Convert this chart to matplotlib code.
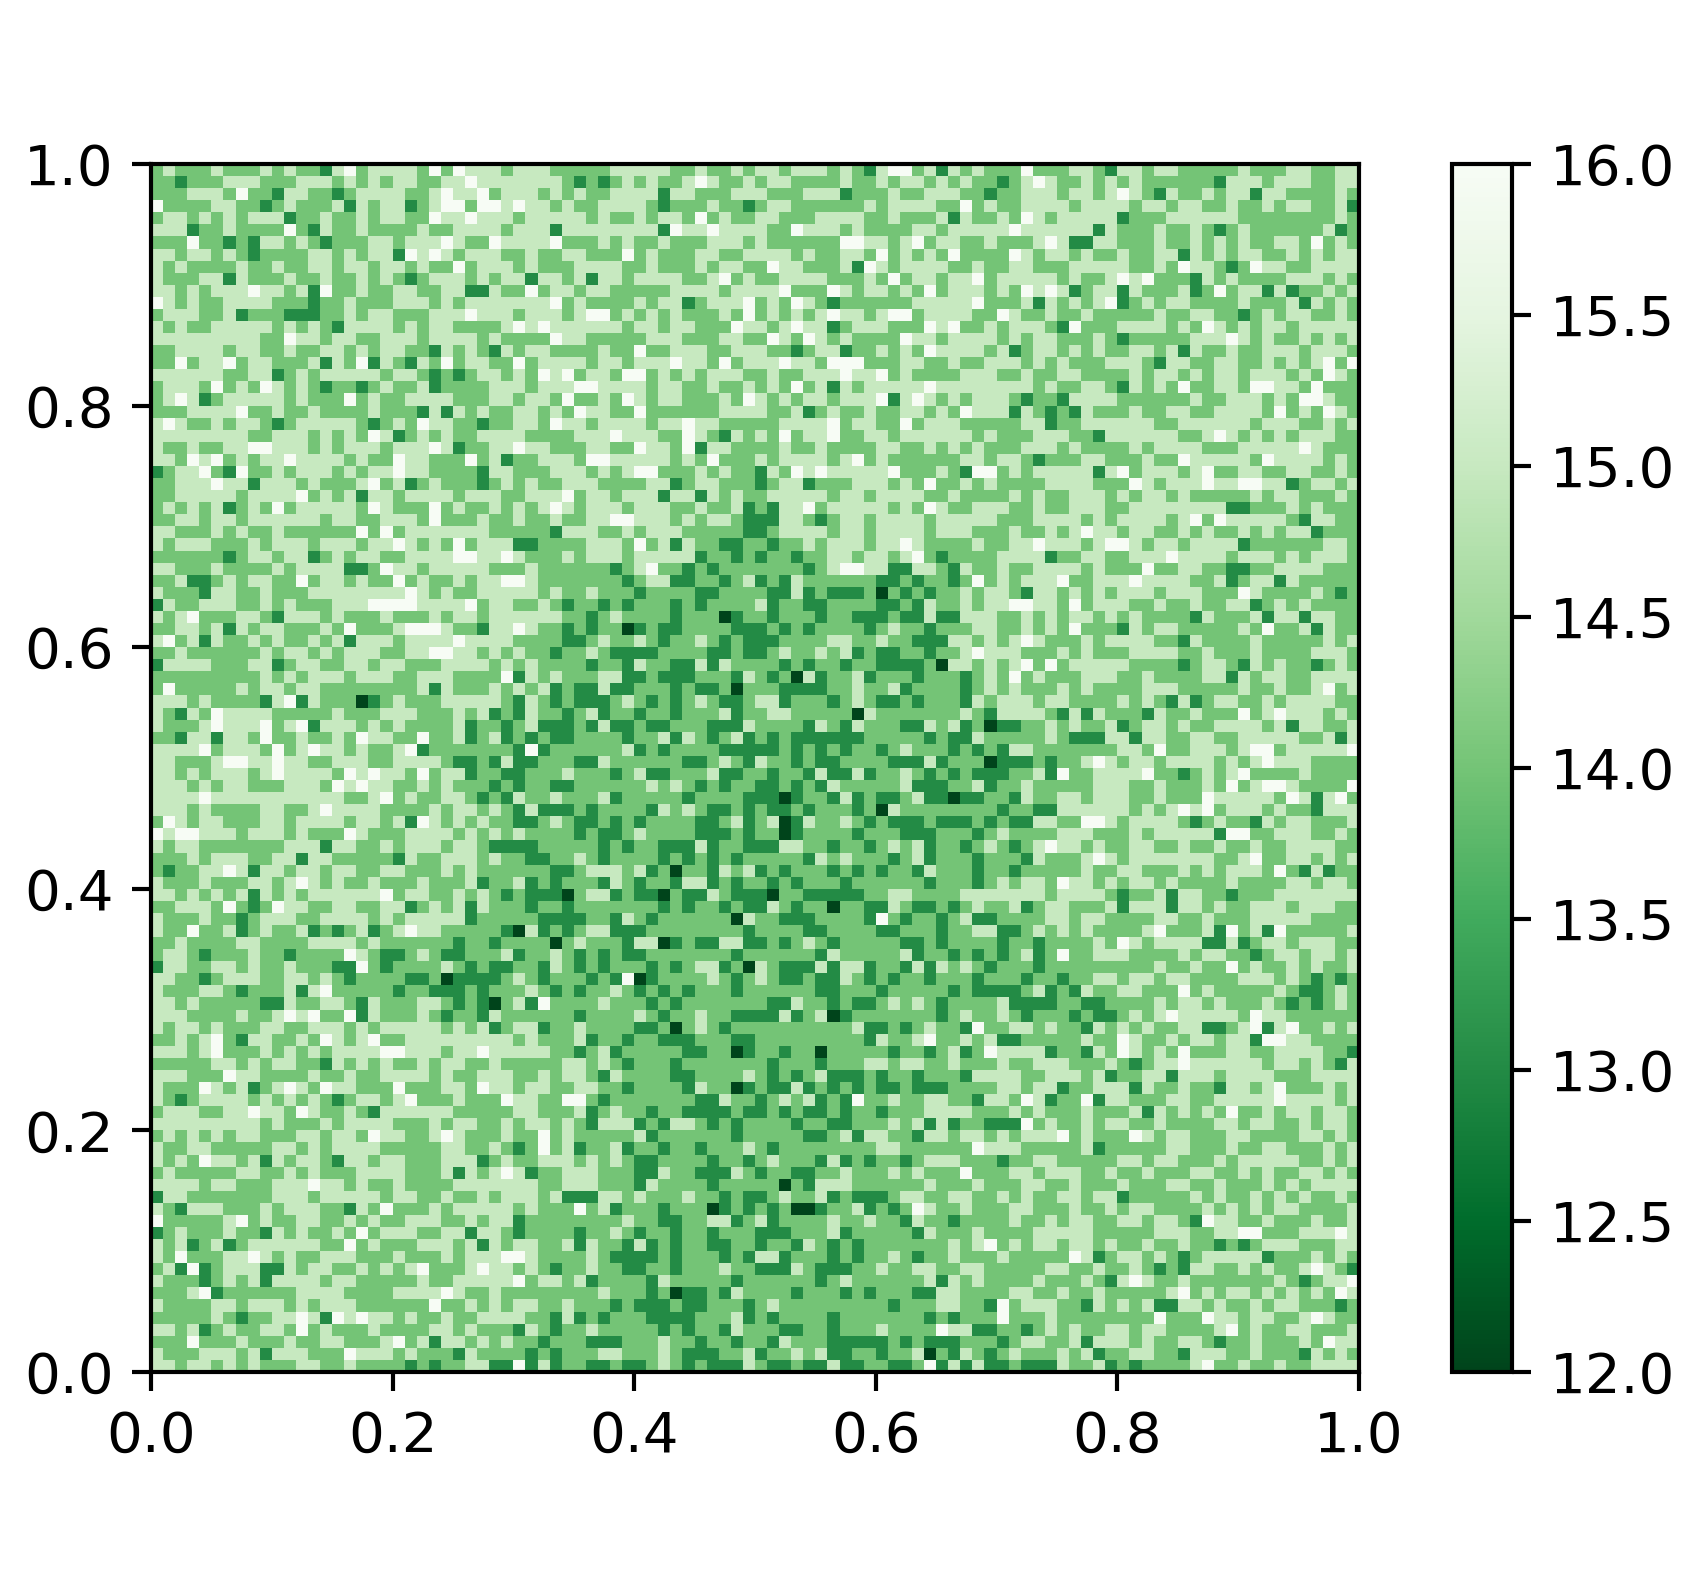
"""Heatmap with a colorbar. Cell values are hand-read estimates from the reference picture."""

import matplotlib
matplotlib.use("Agg")
import matplotlib.pyplot as plt
import numpy as np

# each number is one cell, value = 10 + number, rows run top to bottom
top_left = [
    "4 5 4 4 4 5 4 4 4 5 4 5 4 4 3 5 6 4 5 5 5 5 4 6 4 6 5 5 5 4 5 5 5",
    "4 4 3 4 4 4 5 5 5 4 4 4 5 5 5 4 5 4 5 4 5 5 4 4 5 5 6 5 5 5 5 5 5",
    "4 4 4 5 5 5 4 6 4 4 3 5 5 4 4 3 4 5 5 5 5 4 4 5 6 5 5 6 4 5 5 5 4",
    "6 4 4 4 4 5 5 4 4 3 4 5 4 4 4 5 3 5 4 5 5 3 4 5 6 6 4 6 6 5 6 5 5",
    "4 5 5 4 5 4 5 4 5 5 5 3 4 4 5 4 4 5 4 5 5 4 4 6 5 5 6 5 5 5 4 5 5",
    "5 5 5 3 4 4 5 4 4 4 4 6 4 3 5 4 4 5 4 4 4 4 5 4 4 5 5 5 5 4 5 5 5",
    "4 4 4 6 4 4 3 4 3 5 5 4 5 4 3 4 4 4 5 5 4 5 5 5 6 5 4 4 6 5 5 5 5",
    "5 5 4 5 5 4 5 4 3 4 4 4 4 5 5 4 5 4 5 5 3 6 5 6 5 4 5 5 5 4 4 5 4",
    "5 4 5 4 4 4 4 5 4 4 5 4 4 5 5 4 5 5 4 5 5 4 5 4 4 6 4 5 5 5 4 5 4",
    "5 4 4 4 5 5 3 5 4 4 4 5 4 4 5 4 4 5 4 5 4 3 4 5 5 5 4 5 4 5 5 3 5",
    "5 5 4 5 4 5 5 5 6 5 5 4 5 3 6 4 4 5 4 4 5 5 4 4 5 5 3 3 5 4 4 6 4",
    "6 5 4 5 4 4 5 5 5 5 4 4 4 3 4 4 5 4 4 4 5 5 5 4 5 4 5 5 5 5 5 5 5",
    "4 5 5 5 4 4 5 3 4 4 4 3 3 3 4 4 5 4 5 5 4 4 4 5 5 5 6 5 5 5 4 5 5",
    "5 4 5 4 4 5 5 5 5 5 4 5 4 5 4 3 5 5 5 5 4 5 4 5 5 4 4 4 4 5 6 5 6",
    "5 5 5 5 5 5 5 5 5 4 4 6 5 5 4 5 5 4 4 5 5 5 4 5 5 5 5 4 5 4 4 4 4",
    "4 4 5 5 5 5 4 5 5 4 4 5 4 4 5 5 4 5 4 5 5 4 4 3 5 4 5 4 3 5 4 5 5",
    "4 4 6 4 5 5 6 4 5 5 4 4 4 5 3 5 4 6 3 5 4 3 5 4 6 4 5 5 4 4 6 4 5",
    "5 5 5 5 5 5 4 4 5 5 3 4 5 4 5 5 5 5 5 4 5 5 4 3 4 3 4 5 5 4 5 4 6",
    "4 5 5 5 4 6 4 5 4 6 5 4 5 4 3 4 4 3 4 5 4 4 5 3 4 4 4 4 5 5 5 4 5",
    "4 5 6 5 3 4 5 5 5 5 5 4 5 4 4 4 6 4 5 4 4 5 5 5 5 4 4 4 5 5 4 5 5",
    "4 4 4 5 5 5 5 6 4 4 5 4 4 5 4 4 4 4 5 4 4 4 3 5 3 5 4 5 4 4 5 5 4",
    "5 6 5 4 4 5 4 5 5 4 3 4 5 5 5 5 5 4 3 4 5 4 6 5 5 4 4 3 4 4 5 5 4",
    "5 5 5 5 5 5 5 5 4 4 5 5 5 4 5 4 5 4 6 5 3 4 5 4 5 4 4 5 5 5 5 4 4",
    "5 4 4 5 4 4 5 5 6 6 5 5 5 4 5 4 5 5 5 4 5 5 5 6 5 3 4 4 5 5 6 5 5",
    "5 5 4 6 5 6 4 5 4 5 5 6 5 5 5 5 4 5 4 4 6 5 5 4 4 4 6 4 5 3 4 4 5",
    "3 4 5 5 6 4 3 6 4 4 5 4 5 5 5 4 5 4 5 5 6 5 5 4 4 4 4 3 5 5 4 4 4",
    "4 4 5 5 5 6 5 5 3 5 5 5 4 5 4 4 4 5 6 4 5 3 4 5 4 4 4 3 4 5 4 5 4",
    "4 4 5 5 5 5 5 4 5 5 5 5 6 4 5 4 5 3 5 5 4 5 5 5 5 4 5 5 5 4 4 5 5",
    "4 5 4 5 4 5 3 4 5 4 6 4 5 5 5 5 5 4 6 5 4 4 4 6 4 5 4 4 5 4 5 4 5",
    "4 4 5 5 4 5 5 4 5 5 5 5 5 5 4 5 5 4 4 5 5 5 4 6 4 4 4 5 4 4 5 4 4",
    "5 5 4 4 4 5 4 5 4 4 5 4 4 4 4 4 4 6 4 6 4 5 5 5 5 5 5 5 4 4 4 4 4",
    "5 4 5 5 5 4 4 4 5 4 5 5 5 4 5 5 5 4 5 5 6 5 4 5 4 6 4 5 5 5 3 3 4",
    "4 4 4 4 4 4 3 4 5 5 4 5 5 3 4 5 4 5 5 4 4 5 5 5 5 6 6 5 5 6 5 4 4",
]
top_mid = [
    "4 4 4 4 4 5 5 5 5 5 4 4 5 4 4 5 4 5 5 4 5 5 5 4 5 4 3 5 6 6 4 5 3 5",
    "5 4 3 4 3 4 5 4 5 4 4 5 6 5 4 4 5 4 5 5 4 4 4 4 5 4 4 5 4 5 5 4 5 4",
    "5 4 5 4 4 5 5 5 5 3 5 5 4 4 4 5 5 5 4 4 4 5 5 5 3 4 4 4 5 4 4 5 5 5",
    "4 5 4 4 5 5 5 5 4 3 4 4 4 5 4 4 3 4 5 5 4 4 4 4 4 4 5 4 5 5 5 5 4 4",
    "5 5 5 4 5 4 4 5 4 5 5 4 6 4 5 4 4 5 5 4 4 4 5 5 5 5 4 4 5 4 4 4 5 3",
    "3 5 5 5 5 5 5 5 5 3 6 5 5 6 5 5 5 5 4 4 6 5 5 5 4 5 4 4 4 4 5 5 4 5",
    "6 4 4 4 5 4 5 4 4 5 4 4 4 5 5 5 4 5 4 4 4 4 4 4 6 6 5 5 4 5 6 4 5 5",
    "4 5 5 4 4 4 6 4 5 4 4 4 5 5 4 4 5 5 5 5 4 5 4 4 5 5 4 6 4 5 4 5 4 6",
    "4 4 5 5 5 5 4 4 5 4 4 4 5 4 5 5 4 4 6 5 5 4 4 4 5 3 6 5 4 5 5 5 5 4",
    "5 4 5 3 5 5 4 5 5 5 5 4 4 5 6 4 5 4 4 5 5 5 5 4 4 4 5 4 6 4 5 5 4 5",
    "5 5 4 5 5 4 4 4 4 4 5 5 5 5 4 5 5 5 5 6 4 4 4 6 5 4 5 5 4 5 4 6 4 5",
    "6 4 5 4 4 4 4 5 4 5 5 3 4 5 5 5 6 4 5 4 6 5 4 3 4 4 4 4 4 4 5 5 5 5",
    "5 4 5 6 6 4 5 4 5 4 5 4 4 4 5 4 6 4 5 4 5 4 5 6 5 5 4 5 6 6 4 5 5 5",
    "5 5 5 5 5 5 4 5 5 4 5 5 4 4 4 6 5 5 4 5 6 5 5 3 4 5 5 5 4 4 4 6 5 6",
    "6 5 5 4 4 4 4 4 5 5 5 4 4 4 5 5 4 4 6 5 4 6 5 4 5 4 4 4 4 6 5 5 4 5",
    "4 4 4 4 5 4 4 6 4 4 5 5 5 4 4 5 5 5 4 4 3 4 5 5 3 4 4 5 4 5 4 6 5 5",
    "5 5 5 4 5 5 4 5 5 5 6 5 5 4 6 4 5 5 5 6 5 5 4 6 6 6 4 4 4 5 5 4 4 5",
    "5 6 4 5 5 4 6 6 4 5 4 5 4 5 5 5 4 4 5 4 4 5 5 5 6 5 5 6 4 5 4 4 4 4",
    "5 5 6 6 5 5 5 5 4 5 5 4 4 5 4 4 5 4 5 4 6 4 5 3 5 4 5 5 5 5 5 6 5 5",
    "4 6 4 4 5 4 6 5 4 5 5 4 4 4 5 4 6 5 4 5 4 5 5 4 5 5 5 6 3 5 6 5 4 5",
    "5 4 6 5 5 4 4 6 4 4 4 4 4 4 5 5 5 5 4 4 5 3 4 5 4 4 5 4 4 5 5 4 5 4",
    "6 5 5 4 5 5 5 5 4 5 5 6 5 5 4 4 4 4 4 5 5 5 5 6 4 5 5 4 4 6 4 5 5 5",
    "4 4 5 5 5 6 5 5 5 4 4 6 5 4 3 5 4 5 4 6 4 5 5 6 4 4 5 5 4 5 5 5 5 5",
    "4 4 4 5 5 4 4 6 5 5 4 6 3 5 5 4 4 4 4 5 4 4 5 4 4 4 4 5 5 4 4 5 4 5",
    "5 5 4 6 6 5 5 5 5 5 4 5 4 6 4 4 4 5 4 5 5 5 5 4 5 6 4 5 4 4 4 4 4 4",
    "5 5 5 4 5 4 5 6 6 4 4 4 5 4 5 4 4 3 5 4 6 5 6 5 5 5 5 5 6 4 4 4 5 4",
    "4 5 5 5 4 4 4 4 5 5 3 4 5 5 4 4 4 3 4 5 5 3 4 4 4 5 5 5 4 5 4 6 4 4",
    "5 6 4 5 5 4 5 5 5 3 5 5 3 5 4 5 4 4 5 5 5 5 5 4 5 5 4 5 5 5 5 4 4 5",
    "6 5 4 5 5 5 4 5 5 5 4 4 5 4 4 5 3 4 3 5 5 6 4 5 5 5 5 5 4 5 4 6 5 4",
    "5 4 4 5 5 6 6 5 5 5 4 5 4 5 5 4 3 3 3 5 5 4 3 4 5 5 4 5 5 5 5 4 5 5",
    "3 5 5 5 4 4 5 4 5 5 5 4 4 4 4 4 3 3 4 5 5 5 5 4 5 5 4 5 5 5 5 4 5 5",
    "4 4 4 5 5 5 4 6 4 5 3 5 4 4 3 3 4 4 3 4 4 5 4 5 5 5 4 5 5 6 5 4 4 4",
    "4 5 4 5 5 5 4 5 5 5 5 5 3 4 4 3 4 3 4 4 3 4 4 5 5 4 5 5 4 5 6 4 3 4",
]
top_right = [
    "4 5 4 4 4 6 4 4 4 5 5 4 3 5 5 4 5 5 4 4 4 4 4 5 4 4 4 5 5 4 4 5 5",
    "5 4 4 3 4 5 6 5 4 4 5 4 5 4 5 4 4 4 4 4 4 3 5 5 5 4 5 5 5 4 4 5 5",
    "4 4 3 4 4 5 5 5 4 5 5 4 5 6 5 4 3 5 4 4 5 4 5 5 3 5 5 4 4 4 4 5 4",
    "6 4 5 4 4 5 5 5 5 4 5 5 5 5 4 5 5 4 5 5 4 4 5 4 4 5 4 5 5 4 4 5 3",
    "5 4 4 5 4 6 5 4 5 5 5 5 5 3 4 4 4 5 5 5 5 5 5 4 4 4 4 4 4 4 4 5 4",
    "5 5 5 5 6 5 5 5 5 5 5 3 5 4 4 4 5 4 4 5 4 3 4 5 4 4 4 4 4 4 5 3 4",
    "4 4 5 4 4 4 5 6 5 3 3 5 5 4 4 4 5 4 4 5 4 5 4 5 4 4 5 5 4 6 4 5 4",
    "4 4 4 4 6 5 4 5 5 4 5 4 4 5 4 4 5 5 3 5 4 5 4 5 5 4 4 5 4 5 4 5 5",
    "4 5 4 4 5 5 4 4 4 5 5 5 5 5 4 4 5 4 6 5 5 4 3 4 6 5 5 4 4 5 5 5 5",
    "5 6 4 5 5 5 5 5 4 5 4 4 5 6 5 6 4 4 4 3 5 4 5 4 4 4 4 5 5 5 4 5 4",
    "5 5 4 5 4 6 5 6 5 3 4 5 5 3 5 4 4 4 5 3 4 6 4 5 5 3 5 3 4 4 5 4 5",
    "5 6 4 4 4 5 3 5 4 5 4 5 6 3 4 5 4 5 5 4 4 4 4 5 4 4 4 5 3 5 4 5 4",
    "5 4 4 6 5 4 4 5 4 4 5 4 4 4 4 4 5 4 4 5 5 4 4 3 4 5 4 5 5 4 4 5 4",
    "4 4 5 4 5 5 5 4 3 6 4 4 4 5 5 5 5 4 5 4 6 5 4 5 4 5 5 4 5 5 5 5 5",
    "5 5 5 4 5 4 5 5 4 4 4 5 4 3 4 4 4 4 4 5 5 5 6 5 4 5 4 4 5 4 5 4 5",
    "5 5 4 5 3 4 5 5 4 5 4 5 4 4 5 5 4 5 3 5 4 4 5 4 4 5 5 5 4 5 5 5 4",
    "4 4 5 5 5 4 5 4 5 4 4 4 5 5 5 4 3 5 5 4 4 5 5 4 4 5 4 5 4 5 6 4 6",
    "5 5 5 4 4 5 4 4 5 5 4 4 4 4 5 4 5 5 4 5 4 5 5 4 5 5 5 4 5 4 6 5 4",
    "5 5 5 5 5 5 4 5 4 4 5 5 4 3 5 4 5 4 6 4 4 5 5 4 6 6 5 5 4 6 4 4 4",
    "4 5 5 5 4 3 4 4 3 5 5 5 5 4 4 4 4 4 4 5 4 4 5 5 5 4 5 4 6 6 5 4 4",
    "6 5 5 5 3 5 4 3 4 3 5 4 4 4 5 4 4 5 5 4 4 5 5 5 5 4 6 4 5 4 6 5 4",
    "4 4 4 4 4 5 5 3 4 4 5 5 5 5 5 5 4 4 5 5 5 5 5 5 4 5 5 5 4 4 5 4 5",
    "5 4 5 4 4 4 5 5 5 4 4 3 5 5 5 5 5 5 4 4 5 6 5 4 5 4 5 4 5 5 5 4 4",
    "4 5 4 4 4 5 5 5 4 5 4 4 4 4 5 4 5 5 5 5 4 4 4 5 5 5 5 5 6 5 4 4 4",
    "5 5 4 5 5 4 3 4 4 4 5 5 4 4 4 5 4 4 6 5 5 5 5 5 4 6 5 5 5 5 4 5 4",
    "3 6 6 4 5 4 5 5 5 5 5 3 5 6 4 5 5 5 4 5 6 4 4 5 5 4 4 5 5 4 4 5 4",
    "5 4 5 4 4 4 4 5 5 5 5 4 4 4 6 5 4 5 5 5 6 5 5 6 6 5 5 3 4 5 5 4 5",
    "4 4 4 4 5 4 5 4 4 5 5 5 4 5 4 5 5 4 5 4 4 4 4 4 5 4 5 5 4 4 4 5 4",
    "4 5 5 5 4 4 5 4 4 5 5 5 4 4 5 5 5 5 5 5 5 5 3 3 4 4 4 5 4 5 4 4 4",
    "5 5 5 4 4 4 5 5 5 5 4 5 4 5 5 5 5 4 5 6 4 6 5 5 5 5 5 4 3 5 5 4 4",
    "5 4 4 4 5 4 4 5 4 5 6 5 5 4 5 5 4 4 5 4 5 4 4 5 4 5 4 5 5 3 4 4 4",
    "4 5 4 4 5 5 6 5 5 5 4 5 6 6 5 4 5 5 4 5 5 5 5 3 4 4 4 4 4 4 5 5 4",
    "4 4 4 5 5 5 5 3 4 4 5 5 4 4 5 5 5 6 5 5 5 5 4 5 5 5 4 5 4 5 5 5 4",
]
mid_left = [
    "5 5 4 4 4 5 4 4 4 4 5 4 5 5 5 5 3 3 4 6 5 5 4 5 5 5 5 5 4 4 4 5 4",
    "4 4 5 3 3 4 5 4 5 5 4 4 6 4 5 5 4 5 4 4 6 4 5 4 4 5 4 5 5 6 6 5 4",
    "5 4 4 4 3 5 5 4 4 5 4 4 4 5 5 5 5 5 5 5 5 6 5 4 5 4 4 5 5 5 5 5 4",
    "3 5 4 4 5 5 5 4 4 5 4 5 4 4 4 5 5 5 6 6 6 6 5 5 5 5 6 4 5 5 4 4 5",
    "5 4 5 6 4 4 4 5 5 4 3 5 5 5 4 5 4 4 4 5 4 4 4 5 4 5 5 4 5 5 5 5 5",
    "4 4 5 5 4 5 3 5 4 5 5 4 4 4 5 4 6 4 4 4 5 6 6 6 5 4 4 3 5 5 6 5 4",
    "5 6 4 5 3 5 4 4 5 4 5 4 4 5 4 5 3 5 5 5 4 5 5 5 5 6 5 5 5 5 4 4 4",
    "4 4 5 4 4 4 4 4 4 5 4 5 5 4 5 4 5 5 5 4 4 5 5 6 6 5 5 4 5 4 5 4 4",
    "3 5 5 5 5 4 4 4 5 5 3 4 5 5 4 4 5 5 4 5 5 4 4 4 5 5 5 5 4 5 4 5 4",
    "4 4 4 4 4 4 4 4 4 5 4 5 4 5 5 5 4 5 5 5 4 4 5 5 5 4 4 4 4 6 3 5 4",
    "4 6 4 4 4 4 4 5 4 5 5 4 5 5 4 4 4 4 4 4 4 4 5 3 5 4 4 4 5 4 5 4 5",
    "5 5 5 4 5 4 4 4 4 3 5 6 3 5 4 4 4 2 3 4 5 4 4 4 5 5 5 5 5 4 3 5 4",
    "5 4 3 5 4 6 5 5 5 5 4 4 4 4 4 5 4 4 4 5 5 5 4 4 4 5 4 5 3 4 3 5 4",
    "5 4 4 4 5 6 5 5 5 6 4 5 6 3 5 5 5 4 5 4 5 4 4 4 4 5 3 4 4 3 4 5 3",
    "4 4 3 5 5 3 5 5 4 6 4 4 5 4 4 5 4 6 5 5 4 4 6 4 4 5 3 4 5 3 4 3 4",
    "5 5 5 5 6 4 5 5 5 4 6 4 5 6 5 5 4 5 4 4 5 6 3 4 4 4 4 4 4 4 3 6 3",
    "5 5 4 4 4 5 6 6 5 5 6 5 5 4 4 5 5 5 4 4 5 5 5 5 4 3 3 4 3 5 3 3 4",
    "5 5 4 5 4 5 5 5 4 5 6 5 5 5 5 4 6 5 6 5 5 4 6 4 5 5 3 4 4 3 3 4 4",
    "5 5 5 4 5 4 5 5 4 4 4 5 5 5 4 6 5 6 5 5 4 4 5 4 5 4 4 4 3 4 3 4 4",
    "5 5 5 5 6 5 5 5 5 5 5 5 5 5 5 5 4 4 5 6 4 5 4 4 5 5 4 3 4 3 5 4 4",
    "5 5 5 4 5 4 4 4 4 5 5 4 4 5 6 5 5 5 5 4 4 4 4 5 4 5 5 4 5 4 3 5 3",
    "4 6 5 4 5 5 4 4 4 5 5 4 5 5 5 5 4 5 5 4 5 3 6 5 4 5 4 5 4 4 3 3 4",
    "6 5 6 6 5 5 5 4 5 5 5 4 5 4 4 4 6 5 4 4 4 5 5 5 5 4 5 4 5 4 5 4 4",
    "5 4 5 5 4 4 4 4 4 4 4 5 5 5 3 5 5 4 4 5 4 5 5 5 4 5 5 4 3 3 3 3 4",
    "4 4 4 5 4 5 5 5 4 4 5 5 3 5 5 4 4 4 4 4 3 5 4 4 5 5 5 4 5 4 4 3 3",
    "4 3 4 4 5 5 6 5 3 5 5 4 5 5 4 5 5 4 4 5 5 4 4 4 5 4 5 4 4 4 4 4 4",
    "5 4 4 4 5 4 4 4 5 5 4 5 6 5 4 5 4 4 5 4 4 4 5 4 4 4 5 3 4 4 5 3 4",
    "5 5 4 5 4 5 4 5 3 5 4 5 4 5 5 5 5 5 5 6 4 5 5 4 4 5 4 5 4 3 4 3 3",
    "4 4 5 5 5 4 6 4 3 4 6 5 5 4 4 5 5 4 4 5 5 3 4 5 4 5 3 5 4 4 4 3 4",
    "5 4 4 4 5 4 4 3 4 5 5 5 4 4 5 5 5 5 4 5 4 5 5 5 5 5 3 4 4 4 4 4 3",
    "5 4 4 6 4 4 5 3 4 5 4 4 5 3 4 3 4 5 3 4 5 6 5 5 4 4 4 4 4 3 2 5 3",
    "4 4 5 4 4 4 4 5 5 4 4 4 4 5 5 5 5 4 5 4 4 4 4 4 4 3 4 4 3 4 4 4 4",
    "4 5 5 4 3 4 4 4 5 4 4 3 4 4 4 4 6 5 4 3 3 4 5 4 3 3 4 4 4 5 3 4 4",
    "3 5 5 4 4 5 5 4 5 4 4 5 4 4 4 3 3 6 4 3 4 4 4 4 5 4 3 4 3 3 4 4 3",
]
mid_mid = [
    "4 4 4 4 4 3 4 5 6 4 4 3 4 3 4 4 4 4 4 4 4 3 4 5 6 6 5 5 3 3 5 5 4 3",
    "4 4 4 4 4 4 3 4 5 5 3 3 4 4 3 4 5 3 4 3 5 4 4 4 4 4 4 3 3 4 3 4 4 3",
    "5 4 4 5 4 4 4 3 4 4 4 4 3 3 4 4 4 4 3 3 5 3 4 3 3 3 4 2 4 3 4 3 4 4",
    "4 3 4 4 3 4 3 4 4 4 3 4 3 4 4 4 4 5 3 4 4 3 3 4 4 4 4 3 3 4 3 5 4 4",
    "5 4 4 3 4 5 4 4 4 4 3 4 4 4 2 3 4 4 3 4 4 4 3 4 4 3 3 3 4 3 3 5 3 3",
    "4 3 4 3 4 4 2 3 4 3 3 4 4 4 4 3 3 3 4 3 4 3 4 4 4 4 3 4 5 4 4 3 4 4",
    "4 3 3 4 5 4 4 5 4 3 4 4 5 4 3 4 3 3 3 4 4 4 4 5 5 4 4 5 4 4 3 3 3 5",
    "3 4 4 5 4 3 3 3 3 4 4 4 4 3 3 4 3 3 4 5 4 4 5 4 5 3 4 3 3 4 4 3 4 4",
    "4 4 4 3 4 4 3 5 4 4 3 3 5 3 5 4 4 4 4 3 4 3 4 4 3 4 4 3 3 3 3 4 2 5",
    "5 4 4 4 5 5 3 3 4 3 3 3 4 4 4 3 5 4 3 4 2 5 3 4 4 5 3 4 4 4 3 4 4 4",
    "3 4 3 3 5 3 3 4 4 4 3 4 3 3 4 2 4 4 4 3 3 3 3 4 4 5 4 4 5 3 4 4 4 4",
    "3 4 3 3 3 4 5 4 3 4 3 4 5 4 3 3 4 5 5 3 4 4 4 3 4 5 4 3 3 4 3 4 4 4",
    "4 3 4 5 3 4 4 3 4 4 3 4 4 4 5 3 4 4 5 5 4 4 4 4 4 2 5 4 4 4 4 4 4 4",
    "3 3 4 3 5 3 3 4 3 3 4 4 4 3 3 3 5 4 4 4 4 3 5 4 3 5 4 4 4 3 3 5 4 5",
    "3 3 4 4 4 4 3 4 4 5 3 5 4 3 4 5 3 4 3 4 3 3 3 3 3 3 4 4 4 4 4 3 4 3",
    "4 4 4 4 4 4 5 3 4 3 4 4 4 4 3 3 3 3 3 4 3 4 3 4 3 4 4 3 4 5 4 4 4 3",
    "4 4 3 3 5 4 4 4 4 4 4 3 3 4 5 4 3 5 4 4 3 4 3 3 4 4 4 4 3 3 3 5 3 4",
    "4 5 4 4 4 3 4 5 3 3 4 4 4 5 3 3 4 4 3 4 4 3 5 3 3 5 3 4 4 5 4 3 4 3",
    "3 3 4 4 4 4 4 4 5 4 5 4 3 4 3 4 4 3 3 4 3 4 3 5 4 4 4 4 4 5 3 3 3 4",
    "5 4 4 4 5 3 4 4 4 4 4 3 4 4 4 4 3 3 3 2 3 4 4 3 5 3 4 3 3 4 5 3 3 2",
    "3 3 4 3 4 4 4 4 3 5 4 5 4 3 3 4 3 4 3 3 4 3 4 4 4 3 4 2 5 4 4 4 4 4",
    "5 4 3 3 4 3 4 3 4 4 4 4 3 3 4 5 3 4 5 2 3 5 4 4 5 4 3 4 3 3 3 4 3 3",
    "4 4 3 4 3 3 4 5 4 4 4 4 3 3 3 4 3 4 4 2 3 4 4 4 4 3 4 4 4 3 3 3 4 4",
    "4 4 4 4 3 4 3 4 4 3 3 3 5 3 4 4 3 3 3 5 5 4 4 3 4 4 3 4 5 4 5 3 4 4",
    "4 4 5 4 3 4 4 4 4 3 4 3 4 3 4 3 4 4 4 4 4 3 5 4 5 4 4 4 3 4 5 3 4 4",
    "3 3 4 5 5 5 4 5 3 4 2 4 4 3 5 4 5 3 4 3 4 4 4 3 4 3 4 3 4 4 3 5 4 4",
    "3 4 4 4 3 5 4 3 4 4 3 5 5 3 4 3 4 4 3 4 3 4 4 4 3 4 4 4 4 4 4 3 4 4",
    "3 2 4 5 5 3 4 3 3 2 4 3 3 5 4 3 3 3 2 4 4 3 3 3 3 3 4 4 5 5 4 4 4 4",
    "4 3 4 4 4 4 4 4 4 3 4 3 4 4 3 4 3 3 5 4 3 4 4 2 4 4 3 3 5 4 3 3 4 3",
    "3 3 3 4 4 3 5 4 3 4 4 4 4 4 4 2 5 4 4 3 3 3 4 4 4 4 3 6 4 3 4 4 3 4",
    "4 3 4 5 5 3 3 3 4 4 4 4 4 4 4 4 3 4 4 4 4 3 3 4 4 4 4 3 3 4 4 4 3 4",
    "2 4 5 4 4 4 3 5 5 2 3 4 3 3 5 5 3 3 4 3 4 5 4 3 4 4 4 4 4 3 3 4 3 4",
    "5 4 3 4 3 4 3 3 4 4 4 4 4 4 4 3 4 4 4 4 4 4 3 5 4 4 4 4 4 5 3 4 4 3",
    "5 4 3 4 3 4 4 4 3 4 3 4 5 5 3 4 2 5 4 3 3 3 5 3 5 5 3 4 4 3 5 3 5 4",
]
mid_right = [
    "5 4 4 5 4 4 5 5 5 5 4 5 4 4 4 6 4 4 5 5 4 4 3 3 4 4 5 5 5 5 4 4 4",
    "4 6 4 5 4 5 5 5 6 4 4 5 5 5 6 5 5 5 5 4 4 5 3 4 5 5 3 5 4 4 4 4 4",
    "5 4 5 5 4 3 5 5 4 5 4 5 4 5 5 5 4 5 5 5 4 4 4 6 5 4 4 4 4 5 4 3 4",
    "5 4 5 5 6 6 5 5 4 6 4 5 5 5 4 4 5 4 4 5 4 4 5 5 3 4 5 4 5 4 4 4 4",
    "5 5 5 4 4 5 4 5 4 5 5 4 5 4 5 4 4 4 4 3 5 4 4 4 5 3 5 5 3 5 5 4 4",
    "4 5 5 4 4 5 4 5 4 6 4 4 4 3 5 4 5 5 4 4 4 4 4 5 4 6 4 4 5 3 5 4 4",
    "5 4 5 4 5 6 5 4 4 4 5 4 5 5 5 5 4 4 3 5 4 4 4 4 5 4 4 4 4 4 5 4 5",
    "5 6 5 5 5 4 4 4 5 4 5 4 4 4 5 5 5 5 4 4 5 4 4 4 5 4 4 4 4 5 5 5 4",
    "5 4 5 4 5 6 4 6 4 5 5 5 5 5 4 4 4 4 3 4 5 5 4 3 5 4 5 4 4 3 4 5 4",
    "3 4 5 4 6 4 5 4 4 4 5 5 5 4 4 5 4 4 4 4 5 5 3 5 4 5 5 4 4 5 5 5 5",
    "3 4 5 4 5 4 4 4 5 4 5 4 4 4 4 5 5 5 4 4 4 4 4 5 4 4 5 4 4 5 6 4 5",
    "3 5 4 5 5 5 4 5 5 4 4 4 4 5 4 5 4 3 5 3 4 5 5 4 4 5 4 5 5 5 5 4 4",
    "5 4 3 5 5 5 5 4 3 5 3 5 4 4 4 3 5 4 4 5 4 4 4 6 4 5 6 5 5 5 4 5 4",
    "3 4 2 3 3 4 4 5 4 5 4 4 5 3 4 5 5 4 5 4 4 5 5 5 5 4 5 3 5 5 4 4 5",
    "3 5 4 4 4 4 4 5 4 3 3 3 5 5 3 5 5 4 4 5 5 4 4 5 5 5 5 5 4 4 5 3 5",
    "4 3 4 3 5 5 4 4 4 4 4 4 4 5 5 4 6 4 4 5 5 5 4 5 6 6 4 5 5 5 5 5 6",
    "4 4 2 3 3 3 4 3 4 4 5 6 5 4 5 5 4 5 5 5 5 4 5 4 5 6 5 5 5 4 4 4 4",
    "4 3 3 3 4 4 5 3 6 4 4 5 5 5 5 6 4 4 3 4 5 4 5 6 4 4 4 4 5 4 4 4 4",
    "4 5 3 4 4 5 4 4 4 4 4 5 5 5 4 4 5 4 4 4 5 4 6 4 5 6 6 5 4 4 4 4 6",
    "3 3 4 4 3 5 4 4 5 5 4 5 5 5 4 4 5 4 4 4 6 5 5 5 5 5 4 6 5 3 5 6 4",
    "4 4 4 3 4 4 3 3 5 5 5 5 5 5 4 5 4 5 6 5 6 4 5 5 5 4 5 4 4 3 5 5 5",
    "3 4 3 4 3 3 5 5 4 4 6 6 5 4 5 5 5 5 4 3 4 5 4 4 3 5 4 5 5 4 4 4 5",
    "4 3 4 5 4 4 4 4 5 5 5 4 4 4 5 4 5 5 5 5 5 3 6 6 4 4 5 5 5 4 4 5 4",
    "3 4 5 4 3 4 5 6 5 5 4 5 4 4 5 5 4 4 5 4 4 5 4 4 5 4 4 5 5 5 5 4 4",
    "4 3 4 4 4 3 5 4 4 4 5 6 5 4 5 5 5 5 5 5 5 4 4 5 6 4 4 5 5 4 5 4 5",
    "4 3 4 4 3 4 4 4 4 4 5 4 4 5 5 4 4 4 5 4 5 4 5 5 5 4 6 4 3 5 3 4 4",
    "4 3 4 5 4 5 5 4 6 5 5 4 5 4 5 5 4 5 4 4 4 4 5 4 4 4 4 5 5 4 5 5 4",
    "5 5 5 5 5 5 5 4 5 5 5 5 4 3 4 4 5 3 5 5 4 4 3 4 4 4 5 5 5 5 5 5 5",
    "4 5 4 4 5 3 4 5 5 4 4 4 5 3 5 5 5 3 5 5 4 5 4 4 5 5 5 4 5 5 5 4 4",
    "5 3 3 4 4 4 4 5 5 4 5 5 4 4 4 4 5 5 4 4 5 4 4 4 5 5 5 5 5 4 4 4 4",
    "4 5 5 3 3 4 5 4 5 4 5 4 4 4 4 5 6 4 4 4 5 3 6 4 5 3 6 4 4 4 4 4 5",
    "4 4 4 3 4 4 3 4 4 4 4 5 4 6 5 4 5 5 5 5 3 3 5 3 4 5 5 4 5 5 5 4 4",
    "4 3 4 3 4 5 3 4 6 4 4 5 5 5 4 4 4 4 5 4 5 5 4 4 3 4 5 5 4 5 5 4 5",
    "5 4 3 4 4 4 3 4 4 4 4 4 4 4 4 4 5 4 4 5 4 4 6 4 5 4 4 5 4 5 4 4 5",
]
low_left = [
    "5 5 4 4 3 4 5 5 5 4 4 5 5 4 5 4 3 4 4 4 4 3 3 4 2 3 3 3 3 4 5 4 3",
    "5 4 4 4 5 5 4 3 4 4 4 5 3 5 6 4 4 4 4 4 3 4 4 3 3 3 4 3 4 4 4 5 4",
    "5 5 4 5 4 4 4 4 4 3 3 5 4 4 5 5 4 3 5 4 4 4 5 5 4 3 4 3 2 4 5 3 6",
    "5 5 5 4 4 4 4 5 4 4 5 6 5 6 4 4 6 3 5 4 4 4 5 4 3 4 4 3 5 4 4 4 4",
    "5 4 5 5 4 5 4 4 4 5 5 4 4 5 5 5 4 5 4 5 5 5 5 5 4 5 4 5 3 4 5 5 3",
    "4 4 5 4 5 6 4 3 5 5 4 4 5 4 6 5 4 5 6 4 4 5 5 5 5 5 5 5 5 5 4 5 4",
    "5 5 5 4 5 6 4 4 4 5 4 5 4 5 4 5 5 5 5 6 6 5 5 5 4 5 5 6 5 5 5 5 5",
    "4 4 4 4 4 5 5 4 5 4 5 5 4 4 3 5 4 5 4 5 4 4 5 4 5 5 4 4 5 4 4 4 4",
    "5 5 5 4 4 4 6 5 5 4 4 4 4 5 4 4 5 4 4 5 5 5 5 4 5 4 4 5 5 5 4 4 5",
    "5 4 4 4 6 5 4 5 3 4 5 6 5 4 6 5 5 4 4 4 6 4 4 4 5 5 4 6 5 5 4 5 5",
    "5 4 3 4 5 5 5 5 4 5 4 5 4 5 4 3 4 5 5 4 5 6 4 4 4 5 4 4 4 6 5 5 4",
    "4 5 5 5 4 4 5 5 6 5 5 4 6 5 4 4 5 4 3 5 5 5 5 5 5 4 4 4 4 4 5 5 4",
    "5 5 5 5 5 5 5 5 5 4 5 4 4 4 5 4 5 5 5 5 4 4 4 5 4 5 5 4 4 5 4 5 5",
    "4 5 4 5 4 5 4 5 5 4 4 4 5 5 4 5 5 4 6 5 5 4 4 5 6 5 4 4 4 5 4 4 6",
    "5 4 4 5 5 4 4 4 4 4 5 5 4 5 4 5 5 5 5 4 4 4 4 4 5 5 4 4 5 4 3 4 6",
    "5 4 5 4 6 5 5 4 5 3 5 4 5 5 4 3 5 5 4 5 5 4 4 4 5 5 5 3 4 5 4 4 5",
    "4 5 4 4 4 4 4 5 5 4 4 5 4 5 4 4 4 5 5 5 5 4 4 4 5 3 5 4 5 6 5 3 4",
    "5 5 5 5 4 5 5 4 4 4 5 5 5 6 5 5 4 5 4 4 5 4 4 4 4 5 5 5 5 5 5 5 4",
    "3 5 5 4 4 4 4 4 4 4 5 5 5 4 5 5 5 5 5 4 5 5 4 4 5 4 4 5 4 5 5 5 4",
    "5 4 3 5 5 5 4 4 4 5 4 5 5 5 4 4 3 5 4 6 4 4 4 5 4 5 5 5 5 5 4 5 4",
    "6 4 4 4 4 4 5 6 4 5 4 4 5 5 4 4 5 4 5 4 4 5 5 5 4 4 5 4 5 5 3 4 4",
    "3 4 5 4 4 4 5 4 4 3 5 4 5 4 4 5 4 6 4 5 5 5 4 4 5 5 3 5 5 4 3 4 4",
    "5 4 5 3 4 5 3 4 5 5 5 5 5 5 4 4 6 4 5 4 4 4 5 5 5 4 5 3 5 4 5 5 4",
    "5 4 6 4 4 4 5 5 6 5 4 5 4 4 5 5 5 4 4 4 5 4 4 4 5 4 5 5 5 6 6 5 4",
    "4 5 3 6 3 4 5 5 5 3 3 5 4 5 5 4 4 5 4 5 4 5 6 4 4 4 5 6 5 5 4 5 4",
    "5 4 4 4 3 4 5 4 5 3 5 5 5 5 4 5 5 4 4 4 4 4 5 4 4 5 5 5 5 5 6 4 5",
    "4 4 4 5 6 3 4 4 4 4 4 4 5 5 5 5 4 4 4 4 5 5 5 5 6 5 4 4 5 4 4 4 4",
    "5 4 4 4 4 5 5 4 5 5 5 4 5 4 5 5 5 4 4 4 4 4 4 6 4 4 5 4 5 4 5 5 4",
    "4 4 4 4 4 5 4 3 4 4 5 5 6 5 3 6 5 6 5 5 4 5 4 4 5 4 4 5 5 5 5 4 4",
    "5 5 4 5 3 4 5 4 4 5 5 4 6 4 5 4 4 4 5 4 4 4 4 5 5 4 5 4 4 4 3 5 4",
    "4 4 4 6 4 4 4 5 4 4 4 5 4 4 5 5 4 4 4 5 6 4 5 3 5 5 4 5 4 5 4 4 3",
    "5 4 4 4 5 5 5 4 5 3 5 5 5 4 4 4 6 5 5 5 4 5 4 4 4 3 5 4 4 4 4 3 4",
    "5 5 4 5 5 4 5 4 5 4 4 4 5 5 4 4 5 4 4 4 4 3 4 3 4 4 5 5 3 3 6 3 5",
]
low_mid = [
    "4 4 4 3 4 3 6 2 3 4 4 4 4 5 4 3 4 5 4 3 3 4 3 3 5 4 3 4 3 4 4 3 4 4",
    "3 4 3 4 4 5 4 3 4 3 4 3 4 4 4 3 4 4 4 4 4 4 3 3 4 4 4 3 4 4 4 4 4 3",
    "4 4 4 4 5 4 4 4 3 4 3 4 4 4 4 4 4 4 3 3 5 4 4 3 4 3 3 4 5 4 5 4 3 4",
    "4 4 3 4 4 4 4 5 4 3 4 4 5 4 4 3 3 3 3 5 3 4 5 2 3 4 4 4 4 4 4 4 3 4",
    "4 4 5 4 4 4 4 3 3 4 2 4 5 4 3 4 4 4 4 4 4 4 4 4 4 5 3 3 4 3 4 5 4 4",
    "4 4 5 3 4 4 3 4 4 3 3 3 4 4 4 3 3 4 4 4 4 4 4 4 4 4 3 5 4 4 5 6 4 4",
    "4 4 3 4 5 3 4 4 4 4 4 3 3 4 4 2 3 4 4 3 4 4 2 4 4 4 4 4 3 4 4 3 4 5",
    "4 5 5 4 5 4 3 4 4 4 3 4 4 4 4 4 4 4 3 4 4 4 3 4 4 4 5 5 4 5 5 4 4 5",
    "4 5 5 4 3 5 4 4 4 4 3 3 4 4 4 4 5 4 3 4 3 4 5 3 3 3 4 3 4 4 3 4 4 4",
    "4 4 5 5 4 4 3 4 4 4 4 3 5 4 4 2 3 4 3 3 5 3 4 3 4 3 4 3 3 4 3 3 3 4",
    "4 6 6 4 3 4 4 4 4 4 4 4 3 3 5 4 4 3 4 5 4 5 3 4 3 6 4 4 5 4 4 5 5 4",
    "4 4 5 3 4 5 4 4 3 4 4 3 3 3 3 4 3 3 4 3 4 3 3 4 3 4 4 3 4 4 4 5 5 5",
    "4 5 4 3 5 5 5 3 4 3 5 5 4 3 4 3 4 4 4 4 3 4 4 3 3 4 4 4 5 4 5 3 5 3",
    "4 5 4 4 4 4 4 5 3 4 4 4 4 4 4 3 4 4 4 4 4 3 3 4 5 3 5 5 4 4 3 5 5 4",
    "4 5 3 4 4 5 3 4 4 3 4 4 3 4 4 4 5 4 3 4 4 4 4 4 4 4 4 5 5 4 4 4 4 4",
    "5 5 4 5 4 5 4 3 3 4 4 4 4 3 4 4 3 4 5 4 4 4 3 5 3 4 3 4 4 3 4 5 5 5",
    "4 5 5 5 4 4 4 3 3 5 4 4 3 3 3 5 4 3 4 4 3 3 4 4 5 4 4 4 5 4 5 4 4 4",
    "4 5 5 5 4 4 4 3 5 4 4 4 4 3 4 4 4 4 4 2 4 3 5 5 5 4 4 4 4 4 4 5 4 4",
    "5 3 3 3 5 5 4 5 4 4 4 5 4 4 3 4 3 3 4 5 4 4 5 3 4 3 3 3 4 5 5 4 4 5",
    "4 4 6 4 5 3 4 4 4 3 4 4 4 2 3 4 3 4 3 4 2 2 3 4 4 5 3 4 3 4 6 5 4 4",
    "4 4 4 4 4 4 5 4 4 3 3 4 4 5 5 3 4 5 3 4 4 4 4 5 4 4 5 4 4 3 5 4 4 3",
    "4 4 3 4 4 5 4 3 4 4 3 4 4 3 4 4 4 3 3 3 4 4 4 5 3 4 4 4 4 4 3 5 4 4",
    "4 5 3 5 4 4 3 5 3 4 3 4 4 3 3 4 4 3 4 4 3 5 4 3 4 3 4 4 4 4 4 4 4 5",
    "4 4 4 5 4 3 3 3 3 4 3 4 4 4 3 4 3 5 5 3 4 4 4 3 4 3 4 4 5 4 3 4 4 5",
    "3 4 4 5 4 4 3 3 4 4 3 4 4 4 5 4 4 3 3 3 5 4 3 3 3 4 4 5 4 4 5 5 4 4",
    "5 4 5 3 4 4 4 4 3 5 4 4 4 4 4 3 4 4 4 4 4 4 3 4 5 4 4 4 4 4 4 5 3 5",
    "4 4 4 4 5 4 4 4 3 4 2 3 3 4 3 5 4 4 4 4 3 4 4 4 3 4 3 4 4 4 3 3 5 5",
    "4 5 4 4 4 3 4 3 3 3 4 3 3 4 4 4 3 4 5 4 4 4 4 4 4 4 4 4 3 4 4 4 5 5",
    "3 5 3 4 3 4 4 4 3 3 3 3 4 4 4 5 3 4 3 4 4 4 4 3 4 4 4 4 4 4 4 3 4 3",
    "3 4 4 5 4 4 4 4 4 3 4 3 4 4 3 5 4 4 4 3 3 4 4 3 4 4 4 5 4 4 4 4 6 5",
    "4 4 4 3 3 3 4 4 4 5 4 4 3 4 4 3 4 4 3 5 4 4 4 3 3 3 3 3 4 3 4 3 3 3",
    "3 4 4 4 5 5 4 4 4 5 4 3 3 3 4 4 5 3 4 4 5 4 5 3 3 4 4 3 4 4 5 2 4 3",
    "3 4 4 3 3 4 3 3 4 5 4 3 4 3 3 3 5 4 3 3 4 3 3 5 3 3 4 4 3 3 4 6 3 5",
]
low_right = [
    "4 3 4 4 4 3 4 4 3 4 4 5 5 4 5 5 4 5 5 4 4 4 4 5 5 5 4 5 4 3 4 3 4",
    "4 3 3 3 3 4 5 3 4 3 5 4 4 5 5 4 4 4 6 4 5 4 4 4 4 4 5 4 3 3 4 5 4",
    "4 4 4 5 3 3 3 3 4 4 3 3 4 4 4 4 5 4 5 5 4 5 4 4 4 5 4 3 4 3 4 5 4",
    "5 4 4 5 4 3 4 4 4 3 4 3 3 4 5 4 5 6 5 5 5 5 5 4 6 5 5 4 4 4 4 4 4",
    "3 6 4 4 5 5 4 5 4 4 3 5 4 5 4 5 4 4 5 5 3 3 4 5 6 3 5 6 4 4 5 4 5",
    "5 4 5 3 3 4 4 4 4 4 5 4 4 6 5 4 4 5 4 5 5 4 5 5 3 6 6 5 5 4 4 4 4",
    "3 4 6 5 5 5 5 3 4 4 3 5 4 6 5 4 5 4 6 4 4 4 5 5 4 4 5 5 5 5 4 4 3",
    "4 4 4 5 4 4 5 5 5 4 4 4 5 4 3 4 5 5 6 5 5 5 5 5 5 4 5 5 4 5 4 3 5",
    "3 5 5 5 5 4 4 5 5 5 4 5 3 4 4 5 5 3 5 5 5 4 5 5 5 5 4 4 4 5 5 5 5",
    "4 4 4 5 5 4 5 5 3 4 4 5 5 5 3 5 4 4 5 4 4 3 5 5 4 5 6 4 4 4 5 4 5",
    "4 3 5 5 4 6 5 3 4 4 6 3 5 5 4 4 4 5 5 4 4 5 5 5 5 5 6 5 5 5 5 4 5",
    "5 4 4 4 5 4 5 4 4 4 5 4 4 4 5 3 5 4 5 4 5 4 6 4 4 5 4 5 5 4 5 5 4",
    "4 4 3 3 3 6 4 5 4 4 5 4 5 5 4 4 5 4 4 4 4 5 5 4 5 5 4 4 5 4 5 5 4",
    "5 5 4 5 4 5 5 5 6 4 5 4 4 4 6 5 4 5 5 4 4 4 5 5 4 4 4 4 5 5 4 5 4",
    "4 6 5 5 5 4 4 4 4 4 5 3 4 4 4 4 4 5 5 4 4 4 5 4 4 5 5 4 4 4 5 4 5",
    "4 4 4 3 4 4 5 5 4 4 4 4 4 5 5 4 5 5 4 4 4 5 4 5 5 5 5 5 4 4 5 4 5",
    "6 4 4 4 5 5 4 5 5 5 4 4 5 4 4 5 4 4 4 5 5 4 4 5 4 5 4 4 5 5 4 5 4",
    "4 5 4 4 4 5 5 4 4 5 4 4 4 5 4 4 4 5 5 4 4 5 4 4 4 5 4 5 4 5 5 5 5",
    "5 4 4 5 4 5 4 4 5 5 4 5 5 3 4 4 4 4 4 5 4 5 4 4 5 4 5 4 5 4 4 5 4",
    "5 4 4 4 5 5 4 4 4 5 4 4 5 4 5 5 4 4 4 4 5 4 5 4 5 4 5 5 4 4 4 4 5",
    "4 4 4 4 5 4 4 5 4 5 5 4 4 5 5 4 5 5 4 3 6 5 5 4 4 5 4 4 4 5 4 4 5",
    "4 5 4 4 4 4 5 5 5 5 5 4 4 4 4 4 5 5 5 4 4 5 5 6 6 4 4 4 5 5 5 6 5",
    "4 5 6 4 5 4 5 5 4 5 5 4 5 4 4 5 4 4 5 4 4 3 4 3 4 5 5 5 4 4 4 5 5",
    "4 4 4 5 4 4 4 4 4 6 5 3 4 5 5 4 5 4 3 4 5 5 5 5 5 3 4 4 4 5 4 5 4",
    "5 5 4 4 4 4 4 5 5 4 4 5 4 4 5 4 3 4 3 5 5 4 4 5 4 5 4 4 5 6 5 4 3",
    "4 5 4 4 4 4 5 4 4 4 5 4 3 5 6 5 4 4 5 4 4 4 4 4 4 4 5 4 3 4 5 5 6",
    "4 4 4 4 5 5 4 4 5 4 4 5 4 4 4 4 4 5 6 4 5 4 5 5 4 5 4 5 4 5 4 6 5",
    "4 4 3 6 4 5 5 5 4 4 3 5 4 5 4 5 3 3 5 5 4 5 4 4 5 4 5 5 4 4 4 3 4",
    "4 4 4 6 4 4 4 5 4 4 4 4 4 4 4 4 6 4 4 4 6 5 5 4 5 5 4 4 5 6 5 4 4",
    "5 3 3 4 4 3 4 5 4 5 4 4 5 5 4 5 5 4 4 4 4 5 6 4 5 4 4 5 5 4 4 4 5",
    "4 4 4 3 4 5 5 4 4 5 3 5 5 5 4 5 4 4 5 5 4 3 4 4 5 4 4 4 5 4 6 5 5",
    "5 4 3 4 5 4 4 4 5 4 5 3 4 4 5 5 4 4 3 5 5 5 4 4 5 4 4 4 3 5 4 5 4",
    "3 5 3 3 4 3 3 3 5 4 4 5 3 4 3 4 4 4 4 5 6 4 4 5 4 4 5 4 4 5 5 5 5",
]
cbar_ticks = [12.0, 12.5, 13.0, 13.5, 14.0, 14.5, 15.0, 15.5, 16.0]
axis_ticks = [0.0, 0.2, 0.4, 0.6, 0.8, 1.0]


def tile(rows):
    return [[10 + int(c) for c in row.split()] for row in rows]


grid = np.block([
    [np.array(tile(top_left)), np.array(tile(top_mid)), np.array(tile(top_right))],
    [np.array(tile(mid_left)), np.array(tile(mid_mid)), np.array(tile(mid_right))],
    [np.array(tile(low_left)), np.array(tile(low_mid)), np.array(tile(low_right))],
])

plt.rcParams["font.size"] = 13.5
plt.rcParams["axes.linewidth"] = 1.0

W, H = 1696, 1571
fig = plt.figure(figsize=(W / 300, H / 300), dpi=300)
ax = fig.add_axes([151 / W, 1 - 1372 / H, 1208 / W, 1208 / H])
im = ax.imshow(grid, cmap="Greens_r", vmin=12, vmax=16, extent=[0, 1, 0, 1],
               origin="upper", aspect="auto", interpolation="nearest")
ax.set_xticks(axis_ticks)
ax.set_yticks(axis_ticks)
ax.tick_params(length=4.5, width=1.0, pad=4.5)

cax = fig.add_axes([1452 / W, 1 - 1372 / H, 60 / W, 1208 / H])
cbar = fig.colorbar(im, cax=cax, ticks=cbar_ticks, format="%.1f")
cbar.ax.tick_params(length=4.5, width=1.0, pad=4.5)
cbar.outline.set_linewidth(1.0)

fig.savefig("out.png", dpi=300)
